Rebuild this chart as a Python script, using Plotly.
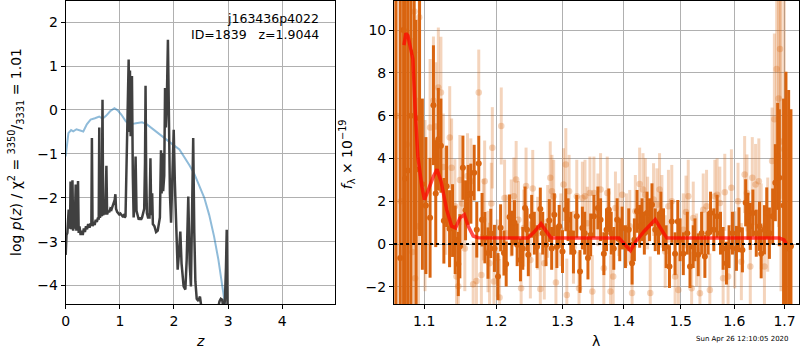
import plotly.graph_objects as go

# ---------------- left panel data: log p(z) ----------------
pz_z = [0.000, 0.015, 0.031, 0.045, 0.055, 0.065, 0.080, 0.090, 0.100, 0.112, 0.125, 0.138, 0.150, 0.165,
        0.185, 0.197, 0.210, 0.228, 0.240, 0.255, 0.276, 0.295, 0.315, 0.335, 0.355, 0.375, 0.395, 0.415,
        0.440, 0.462, 0.474, 0.484, 0.496, 0.515, 0.535, 0.555, 0.575, 0.598, 0.610, 0.620, 0.632, 0.650,
        0.665, 0.680, 0.692, 0.710, 0.730, 0.752, 0.765, 0.785, 0.805, 0.825, 0.845, 0.865, 0.885, 0.905,
        0.918, 0.930, 0.950, 0.970, 0.990, 1.010, 1.030, 1.050, 1.070, 1.090, 1.105, 1.120, 1.135, 1.150,
        1.163, 1.175, 1.187, 1.200, 1.212, 1.224, 1.240, 1.255, 1.270, 1.291, 1.308, 1.328, 1.350, 1.370,
        1.390, 1.410, 1.430, 1.450, 1.465, 1.475, 1.487, 1.500, 1.520, 1.548, 1.565, 1.580, 1.597, 1.610,
        1.640, 1.670, 1.700, 1.720, 1.740, 1.760, 1.772, 1.785, 1.800, 1.820, 1.835, 1.850, 1.866, 1.888,
        1.905, 1.925, 1.946, 1.965, 1.995, 2.015, 2.043, 2.068, 2.090, 2.117, 2.140, 2.178, 2.210, 2.235,
        2.264, 2.290, 2.313, 2.335, 2.355, 2.375, 2.395, 2.420, 2.450, 2.480, 2.510, 2.560, 2.650, 2.750,
        2.800, 2.840, 2.865, 2.890, 2.915, 2.940, 2.960, 2.974, 2.990, 3.010, 3.050]
pz_logp = [-3.30, -2.85, -2.80, -2.40, -2.27, -2.70, -2.65, -1.63, -2.72, -2.55, -1.60, -2.75, -2.55, -2.70,
           -1.70, -2.75, -2.60, -1.62, -2.80, -2.65, -2.85, -2.75, -2.85, -2.70, -2.78, -2.65, -2.72, -2.60,
           -2.68, -2.58, -2.62, -0.64, -2.65, -2.55, -2.62, -2.50, -2.55, -2.45, -2.50, -0.40, -2.45, -2.38,
           -2.42, 0.23, -2.40, -2.30, -2.38, -1.27, -2.38, -2.30, -2.33, -2.25, -2.27, -2.18, -2.12, -2.05,
           -1.92, -2.25, -2.32, -2.35, -2.38, -2.36, -2.40, -2.42, -2.40, -2.45, -2.42, -1.60, -0.60, 0.40,
           1.15, -0.50, 0.90, -0.60, 0.60, 0.77, -1.50, -2.45, -2.20, -1.06, -2.30, -2.40, -2.50, -2.45,
           -2.50, -2.45, -2.35, -2.25, -1.20, 0.55, -1.50, -2.35, -2.45, -2.45, -1.10, -2.40, -1.90, -2.60,
           -2.65, -2.78, -2.75, -2.60, -2.45, -0.92, -1.90, -0.98, -1.85, -1.50, 0.50, -0.40, 0.08, 1.60,
           -0.50, -1.90, -2.57, -1.50, -0.45, -1.60, -3.03, -3.64, -3.30, -2.77, -3.50, -4.02, -4.09, -3.40,
           -1.97, -3.50, -4.02, -2.50, -0.64, -2.80, -3.90, -4.30, -4.35, -4.25, -4.60, -5.00, -5.20, -5.00,
           -4.60, -4.36, -4.30, -4.32, -4.55, -4.35, -3.60, -2.73, -4.60, -5.50, -6.00]

prior_z = [0.00, 0.03, 0.05, 0.10, 0.14, 0.20, 0.26, 0.325, 0.39, 0.46, 0.54, 0.62, 0.68, 0.75, 0.82, 0.90,
           0.96, 1.03, 1.11, 1.17, 1.27, 1.41, 1.50, 1.61, 1.73, 1.86, 1.98, 2.10, 2.19, 2.28, 2.37, 2.46,
           2.56, 2.65, 2.74, 2.82, 2.90, 2.94, 2.98]
prior_logp = [-1.06, -0.70, -0.53, -0.46, -0.49, -0.44, -0.47, -0.49, -0.33, -0.22, -0.19, -0.15, -0.20, -0.13,
              -0.03, 0.04, -0.01, -0.11, -0.26, -0.32, -0.31, -0.28, -0.33, -0.44, -0.56, -0.68, -0.79, -0.90,
              -1.06, -1.25, -1.44, -1.70, -2.00, -2.39, -2.88, -3.41, -4.02, -4.41, -4.90]

# ---------------- right panel data: spectrum ----------------
dark_wave = [1.0630, 1.0686, 1.0730, 1.0750, 1.0786, 1.0825, 1.0867, 1.0893, 1.0939, 1.0976, 1.1023, 1.1079,
             1.1124, 1.1155, 1.1190, 1.1225, 1.1265, 1.1302, 1.1343, 1.1384, 1.1420, 1.1463, 1.1485, 1.1527,
             1.1564, 1.1601, 1.1638, 1.1685, 1.1722, 1.1750, 1.1797, 1.1837, 1.1882, 1.1922, 1.1975,
             1.2026, 1.2064, 1.2113, 1.2146, 1.2195, 1.2230, 1.2268, 1.2308, 1.2357, 1.2392, 1.2426, 1.2456,
             1.2475, 1.2526, 1.2566, 1.2607, 1.2657, 1.2694, 1.2744, 1.2795, 1.2832, 1.2873, 1.2913, 1.2949,
             1.3001, 1.3053, 1.3089, 1.3132, 1.3174, 1.3227, 1.3279, 1.3317, 1.3354, 1.3407, 1.3451, 1.3504,
             1.3569, 1.3613, 1.3667, 1.3711, 1.3749, 1.3789, 1.3832, 1.3888, 1.3932, 1.3972, 1.4028, 1.4084,
             1.4141, 1.4180, 1.4226, 1.4271, 1.4312, 1.4352, 1.4398, 1.4443, 1.4485, 1.4542, 1.4600, 1.4642,
             1.4688, 1.4735, 1.4794, 1.4836, 1.4895, 1.4944, 1.4985, 1.5044, 1.5116, 1.5166, 1.5225,
             1.5257, 1.5318, 1.5380, 1.5441, 1.5502, 1.5547, 1.5609, 1.5671, 1.5735, 1.5785, 1.5849, 1.5899,
             1.5964, 1.6041, 1.6091, 1.6157, 1.6221, 1.6266, 1.6312, 1.6363, 1.6430, 1.6494, 1.6528, 1.6593,
             1.6639, 1.6693, 1.6759, 1.6813, 1.6860, 1.6894, 1.6981, 1.7030, 1.7085, 1.7133]
dark_flux = [13.0, -0.65, 10.0, 3.07, 3.44, 6.0, 8.97, 3.49, 5.88, 2.8, 1.8, 1.23,
             6.49, 2.36, 4.9, 4.6, 1.09, 2.7, 0.72, 1.1, 0.2, -0.93, -0.1, 3.57,
             1.58, 2.3, 2.36, 3.34, 0.67, 3.77, 1.14, 0.3, -0.42, 0.5, -0.2,
             -1.52, 0.76, -0.42, -0.93, 1.27, 0.51, 1.0, -0.03, -0.74, -0.2, 1.69, 0.67,
             -0.5, 1.3, 0.51, -0.12, 1.64, 0.51, -0.03, 1.1, -0.2, 1.37, -0.12, 0.83,
             -0.35, 1.6, 1.14, 0.51, -0.37, 1.3, -1.28, 0.75, 0.51, -0.65, 0.43, 1.3,
             1.69, 1.14, -0.45, 0.67, 1.6, 0.51, -0.2, 1.14, 0.2, 0.75, -0.12, 0.67,
             -0.89, 0.2, 1.53, 0.83, 1.14, 0.51, 1.45, 1.14, 1.84, 0.67, 0.51, 1.45,
             0.67, -0.12, -1.05, 1.06, -0.45, 1.06, 0.2, -0.45, 0.51, -1.05, -0.12,
             0.2, -0.5, 0.51, -0.58, 0.51, 1.45, 0.67, 1.3, 0.51, -0.2, -0.89, -0.12,
             0.51, -0.2, 0.67, -0.27, 1.93, 1.3, 0.83, 1.45, 0.51, 0.83, -0.45, 0.67,
             1.45, 0.51, 1.3, 2.87, 4.1, 3.1, 1.8, 0.05, -0.2, -0.1]
dark_err = [16, 15, 14, 13, 12, 11, 9, 7, 5.5, 4, 3.2, 2.8,
            2.8, 2.5, 2.4, 2.2, 2.0, 1.9, 1.8, 1.7, 1.6, 1.5, 1.5, 1.5,
            1.4, 1.4, 1.4, 1.3, 1.3, 1.3, 1.25, 1.2, 1.2, 1.15, 1.1,
            1.1, 1.1, 1.05, 1.05, 1.05, 1.05, 1.05, 1.0, 1.0, 1.0, 1.0, 1.0,
            1.0, 1.0, 1.0, 1.0, 1.0, 1.0, 1.0, 1.0, 1.0, 1.0, 1.0, 1.0,
            1.0, 1.0, 1.0, 1.0, 1.0, 1.0, 1.0, 1.0, 1.0, 1.0, 1.0, 1.0,
            1.0, 1.0, 1.0, 1.0, 1.0, 1.0, 1.0, 1.0, 1.0, 1.0, 1.0, 1.0,
            1.0, 1.0, 1.0, 1.0, 1.0, 1.0, 1.0, 1.0, 1.0, 1.0, 1.0, 1.0,
            1.0, 1.0, 1.0, 1.0, 1.0, 1.0, 1.0, 1.0, 1.0, 1.0, 1.0,
            1.0, 1.0, 1.0, 1.0, 1.0, 1.0, 1.0, 1.0, 1.0, 1.0, 1.0, 1.0,
            1.0, 1.05, 1.05, 1.05, 1.1, 1.1, 1.1, 1.1, 1.1, 1.15, 1.15, 1.15,
            1.2, 1.2, 1.3, 1.8, 2.5, 3.2, 5.0, 8.0, 7.4, 6.4]

light_wave = [1.0640, 1.0695, 1.0723, 1.0771, 1.0846, 1.0872, 1.0880, 1.0925, 1.0934, 1.1011, 1.1079, 1.1124,
              1.1155, 1.1190, 1.1225, 1.1257, 1.1291, 1.1345, 1.1371, 1.1416, 1.1438, 1.1463, 1.1485, 1.1518,
              1.1554, 1.1591, 1.1638, 1.1671, 1.1717, 1.1750, 1.1787, 1.1815, 1.1834, 1.1882, 1.1904, 1.1930,
              1.1944, 1.1968, 1.2016, 1.2049, 1.2074, 1.2122, 1.2146, 1.2220, 1.2259, 1.2293, 1.2327, 1.2367,
              1.2407, 1.2441, 1.2506, 1.2542, 1.2617, 1.2657, 1.2718, 1.2770, 1.2810, 1.2836, 1.2863, 1.2898,
              1.2975, 1.3017, 1.3053, 1.3069, 1.3105, 1.3174, 1.3227, 1.3263, 1.3317, 1.3359, 1.3397, 1.3439,
              1.3478, 1.3504, 1.3569, 1.3613, 1.3667, 1.3723, 1.3777, 1.3822, 1.3860, 1.3916, 1.3972, 1.4045,
              1.4101, 1.4141, 1.4197, 1.4271, 1.4329, 1.4369, 1.4409, 1.4455, 1.4513, 1.4572, 1.4618, 1.4660,
              1.4718, 1.4776, 1.4836, 1.4895, 1.4954, 1.5044, 1.5093, 1.5134, 1.5196, 1.5226, 1.5287, 1.5349,
              1.5410, 1.5472, 1.5534, 1.5628, 1.5671, 1.5722, 1.5785, 1.5817, 1.5880, 1.5944, 1.6008, 1.6072,
              1.6137, 1.6201, 1.6246, 1.6312, 1.6351, 1.6416, 1.6481, 1.6528, 1.6593, 1.6659, 1.6747, 1.6793,
              1.6840, 1.6880, 1.6908, 1.6928, 1.6995]
light_flux = [6.0, 2.0, 10.0, 4.66, -0.37, 10.87, -1.6, 0.84, 10.6, 1.8, 5.45, 6.7,
              5.5, 7.32, 7.09, 3.6, 2.0, 4.98, 3.57, 1.77, -1.52, -1.97, 3.0, 1.9,
              -0.2, 3.18, 2.94, -1.88, -1.72, 7.09, -1.44, 1.14, 2.94, -0.35, -0.9, 1.9,
              4.5, -1.75, -0.65, -2.5, 5.52, 2.15, 0.51, 1.22, 2.24, 3.02, 1.14, -2.06,
              0.75, 2.71, -0.74, 2.6, 0.51, -2.1, -0.89, 1.06, 3.1, 2.47, 2.24, -1.8,
              0.67, 2.78, 3.72, -2.38, 2.47, -0.15, 2.24, -2.06, 2.15, 2.24, 0.98, 2.39,
              -2.22, 2.39, 1.6, 2.55, -1.13, 2.39, -2.22, -1.52, 1.69, 1.14, 2.31, 0.67,
              0.83, -2.28, 1.53, 2.81, 2.55, 2.31, 1.45, -2.28, 2.08, 1.84, 2.55, 1.53,
              -0.35, 1.77, 2.0, -1.52, -2.14, 0.67, 1.5, 2.24, -2.06, 1.22, -0.27, -2.3,
              1.6, 1.77, -2.14, 2.24, 2.31, 1.92, -1.6, 2.42, -1.52, 2.63, -0.27, 2.0,
              -0.82, 3.25, 2.39, -1.05, 3.1, 2.78, 2.94, 0.83, -1.05, 0.91, 3.88, 5.84,
              8.18, 6.8, 9.12, 4.8, 4.43]
light_err = [15, 15, 14, 12, 10, 9, 8, 6, 6, 4, 3.2, 3.0,
             3.0, 2.8, 2.6, 2.5, 2.5, 2.4, 2.3, 2.2, 2.2, 2.2, 2.1, 2.1,
             2.0, 2.0, 2.0, 2.0, 2.0, 2.0, 1.9, 1.9, 1.9, 1.9, 1.9, 1.9,
             1.9, 1.9, 1.8, 1.8, 1.8, 1.8, 1.8, 1.8, 1.8, 1.8, 1.8, 1.8,
             1.8, 1.8, 1.8, 1.8, 1.7, 1.7, 1.7, 1.7, 1.7, 1.7, 1.7, 1.7,
             1.7, 1.7, 1.7, 1.7, 1.7, 1.7, 1.7, 1.7, 1.7, 1.7, 1.7, 1.7,
             1.7, 1.7, 1.7, 1.7, 1.7, 1.7, 1.7, 1.7, 1.7, 1.7, 1.7, 1.7,
             1.7, 1.7, 1.7, 1.7, 1.7, 1.7, 1.7, 1.7, 1.7, 1.7, 1.7, 1.7,
             1.7, 1.7, 1.7, 1.7, 1.7, 1.7, 1.7, 1.7, 1.7, 1.7, 1.7, 1.7,
             1.7, 1.7, 1.7, 1.7, 1.7, 1.7, 1.8, 1.8, 1.8, 1.8, 1.8, 1.8,
             1.8, 1.8, 1.8, 1.9, 1.9, 1.9, 2.0, 2.0, 2.1, 2.2, 2.5, 4.0,
             5.0, 6.0, 7.0, 7.0, 8.0]

model_wave = [1.0735, 1.0760, 1.0786, 1.0820, 1.0851, 1.0881, 1.0916, 1.0969, 1.1004, 1.1057, 1.1124, 1.1172,
              1.1226, 1.1303, 1.1371, 1.1426, 1.1485, 1.1546, 1.1601, 1.1671, 1.1741, 1.2469, 1.2560, 1.2668,
              1.2740, 1.2821, 1.3918, 1.4000, 1.4112, 1.4200, 1.4350, 1.4542, 1.4620, 1.4747, 1.6894, 1.6990,
              1.7036]
model_flux = [9.3, 9.85, 9.75, 9.1, 8.65, 6.3, 4.11, 2.7, 2.08, 2.55, 3.17, 3.49,
              2.94, 1.61, 0.84, 0.76, 1.22, 1.38, 0.84, 0.38, 0.30, 0.28, 0.55, 0.95,
              0.60, 0.28, 0.28, 0.05, -0.30, 0.10, 0.60, 1.14, 0.80, 0.28, 0.28, 0.20,
              0.0]

x_ticks_lam = [1.1, 1.2, 1.3, 1.4, 1.5, 1.6, 1.7]
x_ticktext_lam = ["1.1", "1.2", "1.3", "1.4", "1.5", "1.6", "1.7"]

ORANGE = "rgb(217,100,15)"
ORANGE_LIGHT = "rgba(217,100,15,0.28)"
FONT = "DejaVu Sans"

fig = go.Figure()

# left panel
fig.add_trace(go.Scatter(x=prior_z, y=prior_logp, mode="lines", xaxis="x", yaxis="y",
                         line=dict(color="rgba(31,119,180,0.5)", width=2), showlegend=False))
fig.add_trace(go.Scatter(x=pz_z, y=pz_logp, mode="lines", xaxis="x", yaxis="y",
                         line=dict(color="#404040", width=2.5), showlegend=False))

# right panel
fig.add_trace(go.Scatter(x=light_wave, y=light_flux, mode="markers", xaxis="x2", yaxis="y2",
                         marker=dict(color=ORANGE_LIGHT, size=6.5),
                         error_y=dict(type="data", array=light_err, color=ORANGE_LIGHT, thickness=3, width=0),
                         showlegend=False))
fig.add_trace(go.Scatter(x=dark_wave, y=dark_flux, mode="markers", xaxis="x2", yaxis="y2",
                         marker=dict(color=ORANGE, size=6),
                         error_y=dict(type="data", array=dark_err, color=ORANGE, thickness=3, width=0),
                         showlegend=False))
fig.add_trace(go.Scatter(x=model_wave, y=model_flux, mode="lines", xaxis="x2", yaxis="y2",
                         line=dict(color="rgba(255,0,0,0.7)", width=3.5), showlegend=False))

fig.add_shape(type="line", xref="x2 domain", yref="y2", x0=0, x1=1, y0=0, y1=0,
              line=dict(color="black", width=2, dash="dot"))

axis_common = dict(showgrid=True, gridcolor="#b0b0b0", gridwidth=1, zeroline=False,
                   showline=True, linecolor="black", linewidth=1, mirror=True,
                   ticks="outside", ticklen=4, tickcolor="black", tickwidth=1,
                   tickfont=dict(family=FONT, size=14, color="black"))

fig.update_layout(
    width=800, height=350,
    margin=dict(l=0, r=0, t=0, b=0),
    paper_bgcolor="white", plot_bgcolor="white",
    font=dict(family=FONT, color="black"),
    xaxis=dict(domain=[0.0775, 0.41625], range=[0, 4.98], anchor="y", tickvals=[0, 1, 2, 3, 4], **axis_common),
    yaxis=dict(domain=[0.1314, 0.9971], range=[-4.42, 2.48], anchor="x", tickvals=[-4, -3, -2, -1, 0, 1, 2],
               **axis_common),
    xaxis2=dict(domain=[0.49, 0.99875], type="log", range=[0.02559, 0.23806], anchor="y2",
                tickvals=x_ticks_lam, ticktext=x_ticktext_lam, **axis_common),
    yaxis2=dict(domain=[0.1314, 0.9971], range=[-2.8, 11.36], anchor="x2", tickvals=[-2, 0, 2, 4, 6, 8, 10],
                **axis_common),
)

ann = [
    dict(text="j163436p4022", x=318, y=19, xanchor="right", yanchor="middle", size=12.5),
    dict(text="ID=1839   z=1.9044", x=318, y=35, xanchor="right", yanchor="middle", size=12.5),
    dict(text="<i>z</i>", x=197, y=341, xanchor="center", yanchor="middle", size=14),
    dict(text="λ", x=595, y=341, xanchor="center", yanchor="middle", size=14),
    dict(text="log <i>p</i>(<i>z</i>) / χ<sup>2</sup> = <sup>3350</sup>/<sub>3331</sub> = 1.01",
         x=12, y=152, xanchor="center", yanchor="middle", textangle=-90, size=14),
    dict(text="<i>f</i><sub>λ</sub> × 10<sup>−19</sup>", x=345, y=154, xanchor="center", yanchor="middle",
         textangle=-90, size=14),
    dict(text="Sun Apr 26 12:10:05 2020", x=742, y=339, xanchor="center", yanchor="middle", size=7),
]
for a in ann:
    fig.add_annotation(xref="paper", yref="paper", x=a["x"] / 800, y=1 - a["y"] / 350,
                       text=a["text"], showarrow=False, xanchor=a["xanchor"], yanchor=a["yanchor"],
                       textangle=a.get("textangle", 0), borderpad=0,
                       font=dict(family=FONT, color="black", size=a["size"]))

fig.write_html("out.html", config={"responsive": False, "displayModeBar": False},
               post_script="document.body.style.margin='0';document.body.style.overflow='hidden';")
